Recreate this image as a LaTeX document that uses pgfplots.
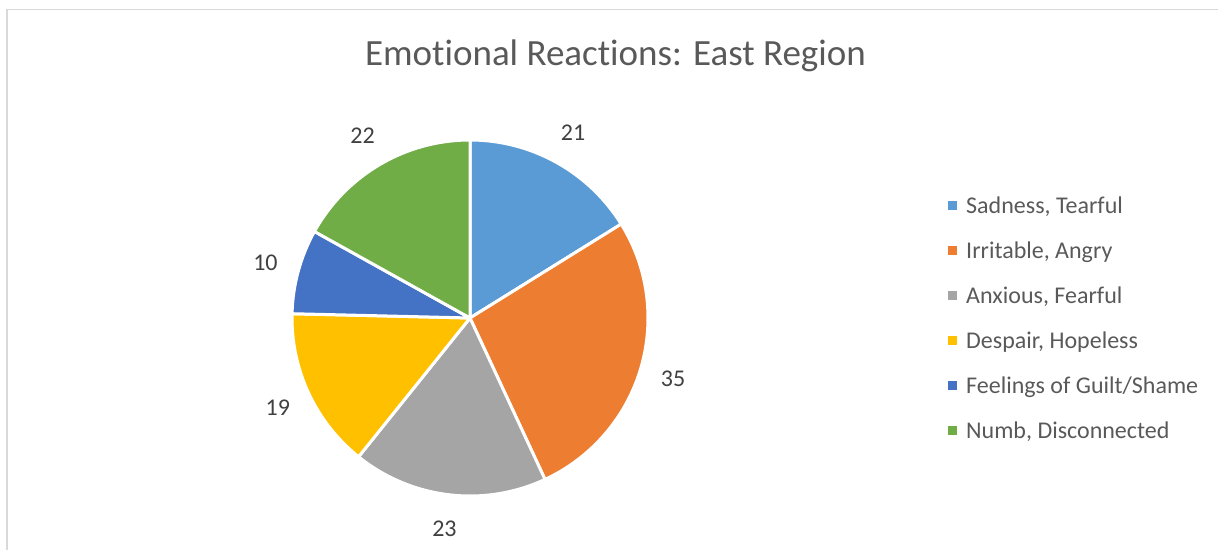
\documentclass[border=0pt]{standalone}
\usepackage{fontspec}
\setmainfont{Carlito}[Ligatures={NoCommon,NoRequired,NoContextual}]
\usepackage{pgfplots}
\usepackage{pgfplotstable}
\pgfplotsset{compat=1.18}
\definecolor{cA}{HTML}{5B9BD5}
\definecolor{cB}{HTML}{ED7D31}
\definecolor{cC}{HTML}{A5A5A5}
\definecolor{cD}{HTML}{FFC000}
\definecolor{cE}{HTML}{4472C4}
\definecolor{cF}{HTML}{70AD47}
\definecolor{titlegray}{HTML}{595959}
\definecolor{labelgray}{HTML}{404040}
\definecolor{framegray}{HTML}{D9D9D9}
\pgfplotstableread[col sep=semicolon]{
label;value;color
Sadness, Tearful;21;cA
Irritable, Angry;35;cB
Anxious, Fearful;23;cC
Despair, Hopeless;19;cD
Feelings of Guilt/Shame;10;cE
Numb, Disconnected;22;cF
}\pietable
\newcommand\labelfont{\fontsize{24bp}{29bp}\selectfont}
\begin{document}
\begin{tikzpicture}
\begin{axis}[width=1218bp,height=550bp,scale only axis,
  xmin=0,xmax=1218,ymin=0,ymax=550,hide axis,clip=false,
  every axis title shift=0pt,
  title={Emotional Reactions: East Region},
  title style={at={(axis cs:615.5,484)},anchor=base,font=\fontsize{37bp}{44bp}\selectfont,text=titlegray,inner sep=0pt}]
\draw[framegray, line width=1.5bp] (axis cs:7,0) -- (axis cs:7,540.5) -- (axis cs:1218,540.5);
\pgfplotstablegetrowsof{\pietable}
\pgfmathtruncatemacro\lastrow{\pgfplotsretval-1}
\def\pietotal{0}
\pgfplotsforeachungrouped \i in {0,...,\lastrow}{%
  \pgfplotstablegetelem{\i}{value}\of\pietable
  \pgfmathsetmacro\pietotal{\pietotal+\pgfplotsretval}%
}
\def\piecum{0}
\pgfplotsforeachungrouped \i in {0,...,\lastrow}{%
  \pgfplotstablegetelem{\i}{value}\of\pietable
  \let\pv\pgfplotsretval
  \pgfplotstablegetelem{\i}{color}\of\pietable
  \let\pc\pgfplotsretval
  \pgfplotstablegetelem{\i}{label}\of\pietable
  \let\pl\pgfplotsretval
  \pgfmathsetmacro\aS{90-(\piecum/\pietotal)*360}%
  \pgfmathsetmacro\aE{90-((\piecum+\pv)/\pietotal)*360}%
  \pgfmathsetmacro\aM{(\aS+\aE)/2}%
  \pgfmathsetmacro\piecum{\piecum+\pv}%
  \pgfmathsetmacro\ly{550-213-45*\i}%
  \edef\temp{%
    \noexpand\filldraw[fill=\pc, draw=white, line width=3bp, line join=round] (axis cs:470,232) -- ++(\aS:178bp) arc[start angle=\aS,end angle=\aE,radius=178bp] -- cycle;
    \noexpand\path (axis cs:470,232) ++(\aM:212bp) node[font=\noexpand\labelfont, text=labelgray, inner sep=0pt]{\pv};
    \noexpand\fill[\pc] (axis cs:948,\ly) ++(0,2.5bp) rectangle ++(9bp,9bp);
    \noexpand\node[anchor=base west, inner sep=0pt, font=\noexpand\labelfont, text=titlegray] at (axis cs:966,\ly) {\pl};
  }\temp
}
\end{axis}
\pgfresetboundingbox
\path (0,0) rectangle (1218bp,550bp);
\end{tikzpicture}
\end{document}
